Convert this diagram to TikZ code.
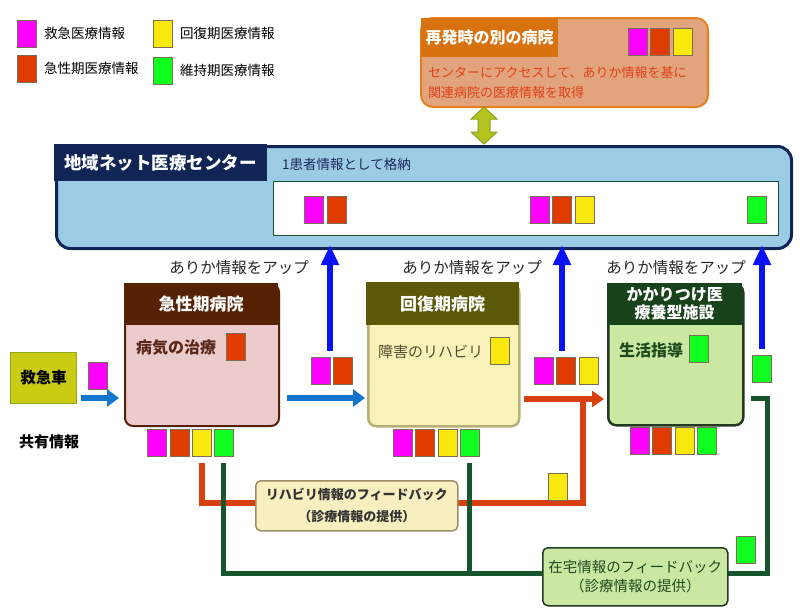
\documentclass[tikz,border=0pt]{standalone}
\usepackage{fontspec}
\setmainfont{Noto Sans CJK JP}
\usetikzlibrary{arrows.meta}

\definecolor{mag}{HTML}{FF00FF}
\definecolor{acu}{HTML}{E03C00}
\definecolor{rec}{HTML}{F8E80C}
\definecolor{mnt}{HTML}{10FF20}
\definecolor{sqline}{HTML}{7A6E5A}
\definecolor{netfill}{HTML}{9CCBE6}
\definecolor{netline}{HTML}{102455}
\definecolor{nettext}{HTML}{1A2A5A}
\definecolor{topfill}{HTML}{E2A47C}
\definecolor{topline}{HTML}{E6801E}
\definecolor{toptab}{HTML}{D8720F}
\definecolor{toptext}{HTML}{E04018}
\definecolor{acuhead}{HTML}{552205}
\definecolor{acubody}{HTML}{EBCBCB}
\definecolor{acutext}{HTML}{5A2818}
\definecolor{rechead}{HTML}{5C5908}
\definecolor{recbody}{HTML}{F6F2B8}
\definecolor{recline}{HTML}{B8AE78}
\definecolor{rectext}{HTML}{5A4A30}
\definecolor{carehead}{HTML}{18421A}
\definecolor{carebody}{HTML}{CBE8A2}
\definecolor{careline}{HTML}{233A20}
\definecolor{caretext}{HTML}{1E4A1E}
\definecolor{ambfill}{HTML}{C9CC12}
\definecolor{ambline}{HTML}{8FA820}
\definecolor{upblue}{HTML}{0A14F0}
\definecolor{flowblue}{HTML}{1475CF}
\definecolor{redline}{HTML}{D8400F}
\definecolor{grnline}{HTML}{17552E}
\definecolor{fbfill}{HTML}{F8EFC0}
\definecolor{fbline}{HTML}{9E8C66}
\definecolor{linkfill}{HTML}{B3C41E}
\definecolor{linkline}{HTML}{8FA01A}

\begin{document}
\begin{tikzpicture}[x=1pt,y=-1pt,
  sq/.style={draw=sqline,line width=0.8pt,minimum width=19,minimum height=27,inner sep=0pt,anchor=north west},
  box/.style={anchor=north west,inner sep=0pt},
  txt/.style={inner sep=0pt,anchor=west},
  legend/.style={txt,font={\fontsize{13.5}{16}\selectfont}},
  uparr/.style={draw=upblue,line width=6.5pt,-{Triangle[width=17pt,length=20pt]}},
  hflow/.style={draw=flowblue,line width=6pt,-{Triangle[width=17pt,length=12pt]}},
  redflow/.style={draw=redline,line width=5.5pt},
  grnflow/.style={draw=grnline,line width=5pt}]
\useasboundingbox (0,0) rectangle (800,614);

% legend
\foreach \c/\x/\y/\t in {mag/17/20/救急医療情報,acu/17/55/急性期医療情報,rec/153/20/回復期医療情報,mnt/153/57/維持期医療情報}
{
	\node[sq,fill=\c] (lg\c) at (\x,\y) {};
	\node[legend] (lgt\c) at (\x+27,\y+13.5) {\t};
}

% other hospital
\node[box,rounded corners=12,fill=topfill,draw=topline,line width=2pt,minimum width=287,minimum height=89] (other) at (420,17) {};
\node[box,fill=toptab,minimum width=137,minimum height=39,text=white,font={\bfseries\fontsize{16}{18}\selectfont}] (othertab) at (421,18) {再発時の別の病院};
\foreach \c/\x in {mag/628,acu/650,rec/673}
	\node[sq,fill=\c] (ot\c) at (\x,28) {};
\node[txt,text=toptext,font={\fontsize{13}{16}\selectfont}] (othertxt1) at (428,73) {センターにアクセスして、ありか情報を基に};
\node[txt,text=toptext,font={\fontsize{13}{16}\selectfont}] (othertxt2) at (428,93) {関連病院の医療情報を取得};

% link arrow
\draw[fill=linkfill,draw=linkline,line width=1pt] (484,107) -- (497,119) -- (490,119) -- (490,132) -- (497,132) -- (484,144) -- (471,132) -- (478,132) -- (478,119) -- (471,119) -- cycle;

% center
\node[box,rounded corners=14,fill=netfill,draw=netline,line width=3pt,minimum width=735,minimum height=102] (center) at (55,145) {};
\node[box,fill=netline,minimum width=213,minimum height=37,text=white,font={\bfseries\fontsize{17.5}{20}\selectfont}] (centertab) at (54,144) {地域ネット医療センター};
\node[txt,text=nettext,font={\fontsize{13.5}{16}\selectfont}] (centertxt) at (282,164) {1患者情報として格納};
\node[box,fill=white,draw=grnline,line width=0.8pt,minimum width=505,minimum height=54] (store) at (273,181) {};
\foreach \c/\x in {mag/304,acu/327,mag/530,acu/552,rec/575,mnt/747}
	\node[sq,fill=\c] (st\x) at (\x,196) {};

% hospitals
\node[box,rounded corners=8,fill=acubody,draw=acuhead,line width=2pt,minimum width=154,minimum height=142] (acute) at (124,283) {};
\node[box,fill=acuhead,minimum width=154,minimum height=42,text=white,font={\bfseries\fontsize{17}{20}\selectfont}] (acuteh) at (124,283) {急性期病院};
\node[txt,text=acutext,font={\bfseries\fontsize{16}{18}\selectfont}] (acutetxt) at (136,348) {病気の治療};
\node[sq,fill=acu] (acutesq) at (226,333) {};

\node[box,rounded corners=8,fill=recbody,draw=recline,line width=2.5pt,minimum width=151,minimum height=142] (recov) at (367,283) {};
\node[box,fill=rechead,minimum width=153,minimum height=43,text=white,font={\bfseries\fontsize{17}{20}\selectfont}] (recovh) at (366,282) {回復期病院};
\node[txt,text=rectext,font={\fontsize{15}{18}\selectfont}] (recovtxt) at (378,352) {障害のリハビリ};
\node[sq,fill=rec] (recovsq) at (490,337) {};

\node[box,rounded corners=8,fill=carebody,draw=careline,line width=2.5pt,minimum width=135,minimum height=141] (care) at (607,283) {};
\node[box,fill=carehead,minimum width=135,minimum height=42,align=center,text=white,font={\bfseries\fontsize{16}{18}\selectfont}] (careh) at (607,283) {かかりつけ医\\療養型施設};
\node[txt,text=caretext,font={\bfseries\fontsize{16}{18}\selectfont}] (caretxt) at (619,350) {生活指導};
\node[sq,fill=mnt] (caresq) at (689,335) {};

% ambulance
\node[box,fill=ambfill,draw=ambline,line width=1pt,minimum width=66,minimum height=51,font={\bfseries\fontsize{15.5}{18}\selectfont}] (amb) at (10,352) {救急車};
\node[sq,fill=mag] (ambsq) at (88,362) {};
\node[txt,font={\bfseries\fontsize{15}{18}\selectfont}] (shared) at (19,442) {共有情報};

% shared info
\foreach \c/\x in {mag/147,acu/170,rec/192,mnt/214}
	\node[sq,fill=\c] (sa\c) at (\x,429) {};
\foreach \c/\x in {mag/393,acu/415,rec/438,mnt/460}
	\node[sq,fill=\c] (sb\c) at (\x,429) {};
\foreach \c/\x in {mag/630,acu/652,rec/675,mnt/697}
	\node[sq,fill=\c] (sc\c) at (\x,427) {};
\foreach \c/\x in {mag/311,acu/333}
	\node[sq,fill=\c] (ua\c) at (\x,357) {};
\foreach \c/\x in {mag/534,acu/556,rec/579}
	\node[sq,fill=\c] (ub\c) at (\x,357) {};
\node[sq,fill=mnt] (ucmnt) at (752,355) {};

% up arrows
\foreach \x/\n in {239/1,472/2,676/3}
	\node[font={\fontsize{15.5}{18}\selectfont},text=black!85] (up\n) at (\x,268) {ありか情報をアップ};
\draw[uparr] (330,351) -- (330,245);
\draw[uparr] (562,351) -- (562,245);
\draw[uparr] (762,349) -- (762,245);

% flows
\coordinate (rj) at (583,399);
\draw[redflow,shorten <=6pt] (sarec.south) |- (rj |- 0,503) -- (rj);
\draw[grnflow,shorten <=6pt,shorten >=6pt] (samnt.south) |- (767,573) |- (care.east |- 0,398);
\draw[grnflow,shorten <=6pt] (sbmnt.south) -- (sbmnt.south |- 0,575.5);
\draw[hflow,shorten <=4pt,shorten >=5pt] (amb.east |- 0,398) -- (acute.west |- 0,398);
\draw[hflow,shorten <=7pt,shorten >=2pt] (acute.east |- 0,398) -- (recov.west |- 0,398);
\draw[redflow,-{Triangle[width=16pt,length=12pt]},shorten <=3pt,shorten >=3pt] (recov.east |- 0,399) -- (care.west |- 0,399);

% feedback
\node[box,rounded corners=5,fill=fbfill,draw=fbline,line width=1.5pt,minimum width=202,minimum height=50] (fbrehab) at (255,480) {};
\node[align=center,text=black!80,font={\bfseries\fontsize{13}{22}\selectfont}] (fbrehabtxt) at (fbrehab.center) {リハビリ情報のフィードバック\\（診療情報の提供）};
\node[sq,fill=rec] (fbrehabsq) at (548,473) {};
\node[box,rounded corners=5,fill=carebody,draw=careline,line width=1.5pt,minimum width=185,minimum height=58] (fbhome) at (542,547) {};
\node[align=center,text=caretext,font={\fontsize{14.5}{19}\selectfont}] (fbhometxt) at (fbhome.center) {在宅情報のフィードバック\\（診療情報の提供）};
\node[sq,fill=mnt] (fbhomesq) at (736,536) {};
\end{tikzpicture}
\end{document}
